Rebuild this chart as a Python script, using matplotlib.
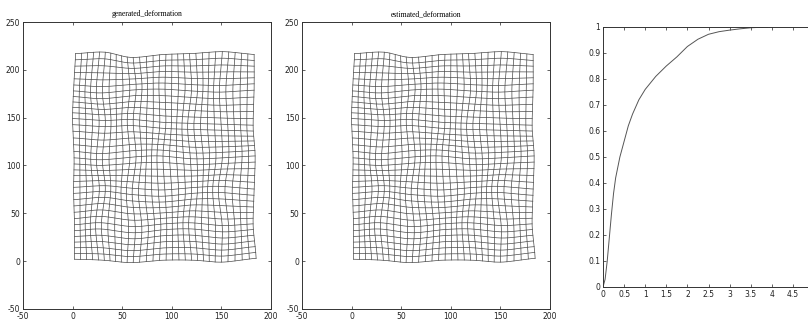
import numpy as np
import matplotlib
matplotlib.use("Agg")
import matplotlib.pyplot as plt

plt.rcParams['axes.unicode_minus'] = False

## Data

# regular grid before warping (30 vertical x 35 horizontal lines)
grid_x_range = (0.0, 180.0)
grid_y_range = (0.0, 216.0)
n_vert_lines = 30
n_horiz_lines = 35

# coarse displacement field (units of the axes), rows = y stations, cols = x stations
ctrl_x = [0, 30, 60, 90, 120, 150, 180]
ctrl_y = [0, 36, 72, 108, 144, 180, 216]
disp_x = [[2.0, 1.0, -1.0, 1.0, 2.0, 1.0, 5.0],
          [2.0, -2.0, 1.0, 2.0, -1.0, 2.0, 2.0],
          [1.0, 2.0, -2.0, 0.0, 2.0, -2.0, 3.0],
          [1.5, -1.0, 2.0, -2.0, 1.0, 2.0, 4.0],
          [0.0, 2.0, -1.0, 1.0, -2.0, 1.0, 2.0],
          [1.0, -1.0, 2.0, 0.0, 2.0, -1.0, 3.0],
          [3.0, 2.0, -1.0, 1.0, 0.0, 2.0, 3.0]]
disp_y = [[2.0, 1.0, -1.5, 1.0, 1.0, -1.0, 3.0],
          [0.0, 2.0, -2.0, 1.0, 2.0, -1.0, 1.0],
          [1.0, 3.0, 0.0, -2.0, 1.0, 2.0, -1.0],
          [0.0, -2.0, 1.0, 2.0, -1.0, 0.0, 2.0],
          [3.0, 1.0, 2.0, -1.0, -2.0, -3.0, -4.0],
          [0.0, -2.0, 1.0, 2.0, 0.0, -1.0, 1.0],
          [1.0, 2.5, -3.0, 0.0, 1.0, 3.0, 0.0]]

# cumulative curve of the right panel
curve_x = [0, 0.05, 0.1, 0.15, 0.2, 0.25, 0.3, 0.4, 0.5, 0.6, 0.7, 0.85, 1.0,
           1.25, 1.5, 1.75, 2.0, 2.25, 2.5, 2.75, 3.0, 3.25, 3.5, 3.75, 3.9]
curve_y = [0, 0.03, 0.1, 0.19, 0.28, 0.36, 0.42, 0.5, 0.56, 0.62, 0.665, 0.72, 0.76,
           0.81, 0.85, 0.885, 0.925, 0.953, 0.972, 0.982, 0.988, 0.993, 0.997, 0.999, 1.0]

titles = ["generated_deformation", "estimated_deformation"]
curve_xticklabels = ["0", "0.5", "1", "1.5", "2", "2.5", "3", "3.5", "4", "4.5", ""]
curve_yticklabels = ["0", "0.1", "0.2", "0.3", "0.4", "0.5", "0.6", "0.7", "0.8", "0.9", "1"]


## Functions

''' Catmull-Rom indices and weights on evenly spaced knots '''
def cr_weights(knots, q):
    knots = np.asarray(knots, float)
    h = knots[1] - knots[0]
    n = len(knots)
    t = (q - knots[0]) / h
    i = np.clip(np.floor(t).astype(int), 0, n - 2)
    u = t - i
    w = np.stack([0.5 * (-u + 2 * u**2 - u**3),
                  0.5 * (2 - 5 * u**2 + 3 * u**3),
                  0.5 * (u + 4 * u**2 - 3 * u**3),
                  0.5 * (-u**2 + u**3)], axis=1)
    idx = np.stack([i, i + 1, i + 2, i + 3], axis=1)
    return idx, w


''' Evaluates a control table at points (X, Y) '''
def field(table, X, Y):
    P = np.pad(np.asarray(table, float), 1, mode="edge")
    ix, wx = cr_weights(ctrl_x, X)
    iy, wy = cr_weights(ctrl_y, Y)
    vals = P[iy[:, :, None], ix[:, None, :]]
    return np.sum(vals * wy[:, :, None] * wx[:, None, :], axis=(1, 2))


def warp(X, Y):
    return X + field(disp_x, X, Y), Y + field(disp_y, X, Y)


def matlab_axes(ax):
    ax.tick_params(direction="in", top=True, right=True, length=2.5, width=0.5,
                   labelsize=5.5, pad=2, colors="#222222")
    for s in ax.spines.values():
        s.set_linewidth(0.7)
        s.set_color("#333333")
    for lab in ax.get_xticklabels() + ax.get_yticklabels():
        lab.set_family(["Liberation Sans Narrow", "DejaVu Sans"])


def draw_grid(ax, title):
    gx = np.linspace(*grid_x_range, n_vert_lines)
    gy = np.linspace(*grid_y_range, n_horiz_lines)
    fine_x = np.linspace(grid_x_range[0], grid_x_range[1], 300)
    fine_y = np.linspace(grid_y_range[0], grid_y_range[1], 300)
    for y in gy:
        wx, wy = warp(fine_x, np.full_like(fine_x, y))
        ax.plot(wx, wy, color="#4a4a4a", lw=0.5)
    for x in gx:
        wx, wy = warp(np.full_like(fine_y, x), fine_y)
        ax.plot(wx, wy, color="#4a4a4a", lw=0.5)
    ax.set_xlim(-50, 200)
    ax.set_ylim(-50, 250)
    ax.set_xticks(np.arange(-50, 201, 50))
    ax.set_yticks(np.arange(-50, 251, 50))
    ax.set_title(title, fontsize=5.5, family="Liberation Serif", pad=4)
    matlab_axes(ax)


## Main

W, H = 808, 329
fig = plt.figure(figsize=(W / 100, H / 100), dpi=100)
fig.patch.set_facecolor("white")

ax1 = fig.add_axes([23 / W, (H - 309) / H, 248 / W, 287 / H])
ax2 = fig.add_axes([302 / W, (H - 309) / H, 248 / W, 287 / H])
ax3 = fig.add_axes([603 / W, (H - 287) / H, 211 / W, 260 / H])

draw_grid(ax1, titles[0])
draw_grid(ax2, titles[1])

ax3.plot(curve_x, curve_y, color="#555555", lw=0.7)
ax3.set_xlim(0, 5)
ax3.set_ylim(0, 1)
ax3.set_xticks(np.arange(0, 5.01, 0.5))
ax3.set_xticklabels(curve_xticklabels)
ax3.set_yticks(np.arange(0, 1.01, 0.1))
ax3.set_yticklabels(curve_yticklabels)
matlab_axes(ax3)

fig.savefig("out.png", dpi=100)
